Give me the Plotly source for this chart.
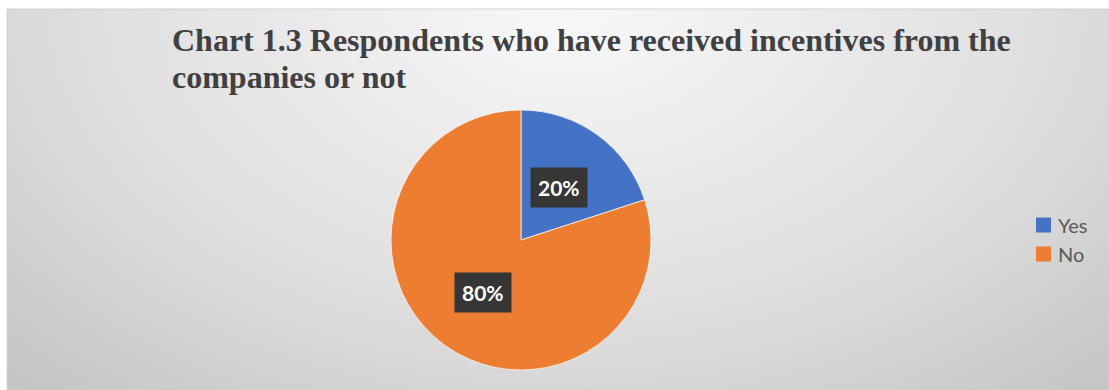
import base64
import math
import plotly.graph_objects as go

# Survey answers
labels = ["Yes", "No"]
values = [20, 80]
colors = ["#4472C4", "#ED7D31"]

title_lines = ["Chart 1.3 Respondents who have received incentives from the",
               "companies or not"]

W, H = 1109, 390
# pie placement in pixels (centre and radius)
CX, CY, R = 521, 240, 130

# soft radial backdrop for the chart area
bg_svg = """<svg xmlns='http://www.w3.org/2000/svg' width='1102' height='381' viewBox='0 0 1102 381' preserveAspectRatio='none'>
<defs><radialGradient id='g' gradientUnits='userSpaceOnUse' cx='560' cy='0' r='840'
 gradientTransform='translate(560,0) scale(1,0.643) translate(-560,0)'>
<stop offset='0' stop-color='#f8f8f8'/>
<stop offset='0.54' stop-color='#e0e0e0'/>
<stop offset='0.66' stop-color='#d9d9d9'/>
<stop offset='1' stop-color='#c1c1c1'/>
</radialGradient></defs>
<rect x='0' y='0' width='1102' height='381' fill='url(#g)'/>
</svg>"""
bg_uri = "data:image/svg+xml;base64," + base64.b64encode(bg_svg.encode()).decode()

fig = go.Figure()
fig.add_trace(go.Pie(
    labels=labels,
    values=values,
    sort=False,
    direction="clockwise",
    rotation=0,
    marker=dict(colors=colors, line=dict(color="rgba(255,255,255,0.7)", width=1)),
    textinfo="none",
    hoverinfo="label+percent",
    showlegend=False,
    domain=dict(x=[(CX - R) / W, (CX + R) / W],
                y=[(H - CY - R) / H, (H - CY + R) / H]),
))

annotations = []
shapes = [dict(type="rect", xref="paper", yref="paper",
               x0=7 / W, x1=1, y0=0, y1=1 - 9 / H,
               line=dict(color="#d0d0d0", width=1))]

# title, one annotation per line so the line spacing can be set
for i, line in enumerate(title_lines):
    annotations.append(dict(
        x=170 / W, y=1 - (40 + 37 * i) / H, xref="paper", yref="paper",
        text=f"<b>{line}</b>", showarrow=False,
        font=dict(family="Liberation Serif", size=32, color="#404040"),
        xanchor="left", yanchor="middle",
    ))

# boxed percentage labels placed halfway out along each slice's mid-angle
total = sum(values)
cum = 0
for v in values:
    mid = (cum + v / 2) / total * 2 * math.pi
    cum += v
    px = CX + 0.5 * R * math.sin(mid)
    py = CY - 0.5 * R * math.cos(mid)
    annotations.append(dict(
        x=px / W, y=1 - py / H, xref="paper", yref="paper",
        text=f"<b>{round(100 * v / total)}%</b>", showarrow=False,
        font=dict(family="Lato", size=21, color="white"),
        bgcolor="#363636", borderpad=7,
        xanchor="center", yanchor="middle",
    ))

# legend: coloured square plus label for each category
LX, LY, LSTEP, SQ = 1036, 225, 29, 15
for i, (lab, col) in enumerate(zip(labels, colors)):
    yc = LY + LSTEP * i
    shapes.append(dict(type="rect", xref="paper", yref="paper",
                       x0=LX / W, x1=(LX + SQ) / W,
                       y0=1 - (yc + SQ / 2) / H, y1=1 - (yc - SQ / 2) / H,
                       fillcolor=col, line=dict(width=0)))
    annotations.append(dict(
        x=(LX + SQ + 5) / W, y=1 - yc / H, xref="paper", yref="paper",
        text=lab, showarrow=False,
        font=dict(family="Lato", size=20, color="#595959"),
        xanchor="left", yanchor="middle",
    ))

fig.update_layout(
    width=W, height=H,
    margin=dict(l=0, r=0, t=0, b=0),
    paper_bgcolor="white",
    plot_bgcolor="white",
    images=[dict(source=bg_uri, xref="paper", yref="paper",
                 x=7 / W, y=1 - 9 / H, sizex=(W - 7) / W, sizey=(H - 9) / H,
                 xanchor="left", yanchor="top", sizing="stretch", layer="below")],
    shapes=shapes,
    annotations=annotations,
    showlegend=False,
)

fig.write_html("out.html")
